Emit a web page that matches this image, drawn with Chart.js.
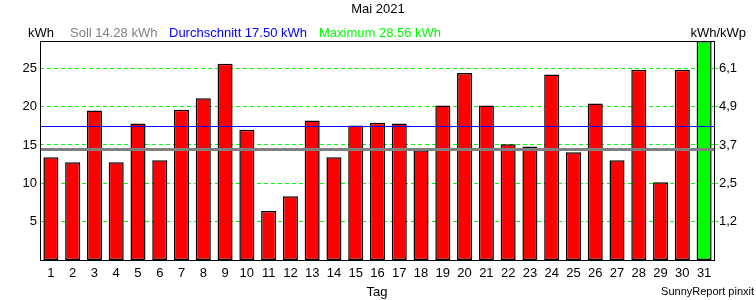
<!DOCTYPE html>
<html lang="de">
<head>
<meta charset="utf-8">
<title>Mai 2021</title>
<script src="https://cdn.jsdelivr.net/npm/chart.js@4.4.1/dist/chart.umd.min.js"></script>
<style>
  html, body { margin: 0; padding: 0; background: #fff; }
  #wrap { width: 756px; height: 300px; }
</style>
</head>
<body>
<div id="wrap"><canvas id="chart" width="756" height="300"></canvas></div>
<script>
  // Werte
  var days = ['1','2','3','4','5','6','7','8','9','10','11','12','13','14','15','16',
              '17','18','19','20','21','22','23','24','25','26','27','28','29','30','31'];
  var dailyKwh = [13.4, 12.75, 19.5, 12.75, 17.8, 13.0, 19.6, 21.1, 25.6, 17.0,
                  6.4, 8.3, 18.2, 13.4, 17.55, 17.9, 17.8, 14.3, 20.15, 24.4,
                  20.15, 15.1, 14.8, 24.2, 14.05, 20.4, 13.0, 24.8, 10.15, 24.8, 28.56];
  var sollKwh = 14.28;
  var avgKwh = 17.50;
  var maxKwh = 28.56;
  var leftTicks = [5, 10, 15, 20, 25];
  var rightTickLabels = ['1,2', '2,5', '3,7', '4,9', '6,1'];

  var FONT = '"Liberation Sans", Arial, sans-serif';
  var GREEN = '#00ff00';
  var maxIndex = dailyKwh.indexOf(Math.max.apply(null, dailyKwh));

  function txt(ctx, s, x, y, color, size, align) {
    ctx.font = size + 'px ' + FONT;
    ctx.fillStyle = color;
    ctx.textAlign = align || 'left';
    ctx.textBaseline = 'alphabetic';
    ctx.fillText(s, x, y);
  }

  var decorations = {
    id: 'decorations',
    afterDatasetsDraw: function (chart) {
      var ctx = chart.ctx, a = chart.chartArea, y = chart.scales.y;
      ctx.save();
      // Soll
      var ys = Math.floor(y.getPixelForValue(sollKwh));
      ctx.strokeStyle = '#808080';
      ctx.lineWidth = 3;
      ctx.beginPath(); ctx.moveTo(a.left, ys - 0.5); ctx.lineTo(a.right, ys - 0.5); ctx.stroke();
      // Durchschnitt
      var ya = Math.round(y.getPixelForValue(avgKwh));
      ctx.strokeStyle = '#0000ff';
      ctx.lineWidth = 1;
      ctx.beginPath(); ctx.moveTo(a.left, ya + 0.5); ctx.lineTo(a.right, ya + 0.5); ctx.stroke();
      // Rahmen
      ctx.strokeStyle = '#000';
      ctx.strokeRect(Math.round(a.left) + 0.5, Math.round(a.top) + 0.5,
                     Math.round(a.right - a.left) - 1, Math.round(a.bottom - a.top));
      ctx.restore();
    },
    afterDraw: function (chart) {
      var ctx = chart.ctx;
      ctx.save();
      txt(ctx, 'Mai 2021', 378, 13, '#000', 13, 'center');
      txt(ctx, 'kWh', 28, 37, '#000', 13);
      txt(ctx, 'Soll ' + sollKwh.toFixed(2) + ' kWh', 70, 37, '#808080', 13);
      txt(ctx, 'Durchschnitt ' + avgKwh.toFixed(2) + ' kWh', 169, 37, '#0000ff', 13);
      txt(ctx, 'Maximum ' + maxKwh.toFixed(2) + ' kWh', 319, 37, GREEN, 13);
      txt(ctx, 'kWh/kWp', 746, 37, '#000', 13, 'right');
      txt(ctx, 'Tag', 377, 296, '#000', 13, 'center');
      txt(ctx, 'SunnyReport pinxit', 754, 295, '#000', 11, 'right');
      ctx.restore();
    }
  };

  new Chart(document.getElementById('chart').getContext('2d'), {
    type: 'bar',
    data: {
      labels: days,
      datasets: [{
        data: dailyKwh,
        backgroundColor: function (c) { return c.dataIndex === maxIndex ? GREEN : '#ff0000'; },
        borderColor: '#000',
        borderWidth: 1.5,
        borderSkipped: false,
        categoryPercentage: 1.0,
        barPercentage: 0.69,
        yAxisID: 'y'
      }]
    },
    options: {
      responsive: false,
      animation: false,
      layout: { padding: { top: 41, left: 0, right: 0, bottom: 0 } },
      plugins: { legend: { display: false }, title: { display: false }, tooltip: { enabled: false } },
      scales: {
        x: {
          grid: { display: false, drawTicks: false },
          border: { display: false },
          ticks: { color: '#000', font: { family: FONT, size: 13 }, padding: 6, autoSkip: false, maxRotation: 0 },
          afterFit: function (s) { s.height = 40; }
        },
        y: {
          position: 'left',
          min: 0, max: maxKwh,
          afterBuildTicks: function (s) { s.ticks = leftTicks.map(function (v) { return { value: v }; }); },
          grid: { color: GREEN, lineWidth: 1, drawTicks: false },
          border: { display: false, dash: [4, 3] },
          ticks: { color: '#000', font: { family: FONT, size: 13 }, padding: 3 },
          afterFit: function (s) { s.width = 40; }
        },
        y2: {
          position: 'right',
          min: 0, max: maxKwh,
          afterBuildTicks: function (s) { s.ticks = leftTicks.map(function (v) { return { value: v }; }); },
          grid: { drawOnChartArea: false, color: GREEN, tickLength: 3 },
          border: { display: false },
          ticks: {
            color: '#000', font: { family: FONT, size: 13 }, padding: 1,
            callback: function (v, i) { return rightTickLabels[i]; }
          },
          afterFit: function (s) { s.width = 41; }
        }
      }
    },
    plugins: [decorations]
  });
</script>
</body>
</html>
